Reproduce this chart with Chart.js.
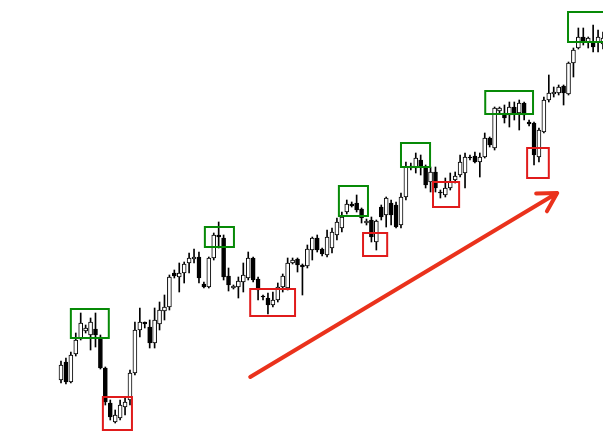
<!DOCTYPE html>
<html>
<head>
<meta charset="utf-8">
<script src="https://cdn.jsdelivr.net/npm/chart.js@4.4.1/dist/chart.umd.min.js"></script>
<style>
  html, body { margin: 0; padding: 0; background: #fff; }
  #wrap { width: 603px; height: 432px; position: relative; }
</style>
</head>
<body>
<div id="wrap"><canvas id="candleChart"></canvas></div>
<script>
// OHLC prices, one entry per candle
const opens = [52, 70, 50, 78, 93, 101, 97, 103, 95, 64,
    29, 10, 14, 25, 32, 59, 102, 110, 105, 89,
    108, 121, 125, 159, 155, 159, 169, 173, 175, 148,
    145, 174, 197, 194, 156, 144, 145, 150, 154, 174,
    153, 136, 134, 127, 132, 145, 144, 169, 173, 167,
    166, 182, 194, 183, 177, 184, 197, 204, 220, 228,
    229, 223, 209, 212, 190, 225, 217, 229, 227, 207,
    235, 266, 264, 272, 264, 250, 260, 240, 237, 244,
    252, 257, 259, 275, 276, 270, 275, 294, 284, 321,
    319, 317, 325, 319, 329, 310, 309, 275, 300, 332,
    338, 339, 346, 338, 369, 384, 395, 390, 390, 390, 388];
const highs = [71, 74, 80, 99, 119, 107, 114, 119, 97, 65,
    32, 22, 32, 34, 62, 110, 124, 110, 112, 124,
    130, 137, 157, 162, 169, 170, 179, 183, 180, 150,
    175, 199, 210, 197, 164, 147, 155, 169, 180, 175,
    155, 137, 139, 140, 149, 158, 174, 174, 174, 168,
    187, 195, 197, 184, 202, 204, 214, 220, 232, 230,
    237, 224, 213, 215, 212, 227, 235, 232, 230, 239,
    270, 269, 279, 277, 267, 265, 265, 242, 254, 259,
    260, 277, 279, 277, 280, 279, 299, 295, 325, 325,
    327, 330, 330, 332, 330, 312, 310, 304, 335, 357,
    345, 347, 347, 370, 384, 404, 404, 395, 407, 402, 400];
const lows = [49, 48, 49, 76, 92, 99, 82, 85, 63, 27,
    12, 9, 12, 17, 27, 57, 95, 104, 84, 84,
    102, 112, 122, 154, 140, 149, 159, 169, 149, 144,
    144, 172, 184, 152, 141, 143, 134, 140, 152, 150,
    132, 132, 118, 125, 130, 140, 142, 168, 160, 137,
    164, 172, 180, 176, 175, 179, 192, 200, 218, 225,
    220, 209, 207, 190, 182, 212, 205, 207, 204, 204,
    232, 262, 259, 257, 244, 240, 240, 234, 235, 242,
    249, 255, 244, 272, 269, 255, 274, 285, 282, 319,
    309, 305, 312, 302, 312, 306, 267, 270, 299, 330,
    335, 337, 327, 337, 355, 383, 387, 384, 380, 380, 383];
const closes = [67, 50, 77, 92, 109, 104, 110, 97, 64, 30,
    15, 17, 27, 30, 59, 102, 110, 108, 89, 112,
    122, 125, 155, 156, 159, 168, 174, 175, 154, 145,
    174, 197, 195, 155, 147, 146, 151, 157, 174, 152,
    142, 135, 127, 132, 145, 156, 169, 172, 167, 165,
    183, 194, 182, 178, 195, 200, 210, 215, 228, 226,
    222, 214, 211, 195, 211, 215, 234, 217, 205, 235,
    265, 264, 274, 265, 247, 260, 244, 239, 244, 250,
    256, 270, 275, 274, 270, 275, 294, 287, 324, 324,
    314, 325, 319, 329, 317, 308, 277, 302, 332, 339,
    340, 345, 339, 369, 382, 395, 390, 394, 385, 395, 394];

// marked zones: [first candle, last candle, low price, high price]
const topZones = [[2.0, 9.7, 94, 123], [29.2, 35.1, 185, 205], [56.4, 62.3, 216, 246],
    [69.0, 74.9, 265, 289], [86.1, 95.8, 318, 341], [102.9, 110.6, 390, 420]];
const bottomZones = [[8.5, 14.4, 2, 35], [38.4, 47.5, 116, 143], [61.3, 66.2, 176, 199],
    [75.5, 80.8, 225, 250], [94.6, 99.0, 254, 284]];

// trend arrow: [candle, price]
const trendFrom = [38.4, 55];
const trendTo = [100.7, 239];

const wickData = opens.map((o, i) => ({ x: i, y: [lows[i], highs[i]] }));
const bodyData = opens.map((o, i) => ({ x: i, y: [Math.min(o, closes[i]), Math.max(o, closes[i])] }));
const bodyColors = opens.map((o, i) => closes[i] >= o ? '#ffffff' : '#000000');

const zonePlugin = {
    id: 'zones',
    afterDatasetsDraw(chart) {
        const ctx = chart.ctx;
        const xs = chart.scales.x;
        const ys = chart.scales.y;
        ctx.save();
        ctx.lineWidth = 2;

        const drawZone = (z, color) => {
            const x0 = xs.getPixelForValue(z[0]);
            const x1 = xs.getPixelForValue(z[1]);
            const y0 = ys.getPixelForValue(z[3]);
            const y1 = ys.getPixelForValue(z[2]);
            ctx.strokeStyle = color;
            ctx.strokeRect(x0, y0, x1 - x0, y1 - y0);
        };
        topZones.forEach(z => drawZone(z, '#078a07'));
        bottomZones.forEach(z => drawZone(z, '#e01b1b'));

        // trend arrow
        const ax = xs.getPixelForValue(trendFrom[0]);
        const ay = ys.getPixelForValue(trendFrom[1]);
        const bx = xs.getPixelForValue(trendTo[0]);
        const by = ys.getPixelForValue(trendTo[1]);
        const ang = Math.atan2(by - ay, bx - ax);
        ctx.strokeStyle = '#ea321c';
        ctx.lineWidth = 4;
        ctx.lineCap = 'round';
        ctx.lineJoin = 'round';
        ctx.beginPath();
        ctx.moveTo(ax, ay);
        ctx.lineTo(bx, by);
        ctx.moveTo(bx - 21 * Math.cos(ang - 0.52), by - 21 * Math.sin(ang - 0.52));
        ctx.lineTo(bx, by);
        ctx.lineTo(bx - 21 * Math.cos(ang + 0.52), by - 21 * Math.sin(ang + 0.52));
        ctx.stroke();
        ctx.restore();
    }
};

const config = {
    type: 'bar',
    data: {
        datasets: [{
            label: 'body',
            data: bodyData,
            backgroundColor: bodyColors,
            borderColor: '#000000',
            borderWidth: 1,
            borderSkipped: false,
            barThickness: 4,
            grouped: false,
            order: 0
        }, {
            label: 'wick',
            data: wickData,
            backgroundColor: '#000000',
            borderWidth: 0,
            barThickness: 1,
            grouped: false,
            order: 1
        }]
    },
    options: {
        responsive: true,
        maintainAspectRatio: false,
        animation: false,
        layout: { padding: 0 },
        scales: {
            x: { type: 'linear', min: -12.38, max: 110.0, offset: false, display: false },
            y: { min: 0, max: 432, display: false }
        },
        plugins: {
            legend: { display: false },
            tooltip: { enabled: false }
        }
    },
    plugins: [zonePlugin]
};

window.onload = function() {
    const ctx = document.getElementById('candleChart').getContext('2d');
    window.candleChart = new Chart(ctx, config);
};
</script>
</body>
</html>
